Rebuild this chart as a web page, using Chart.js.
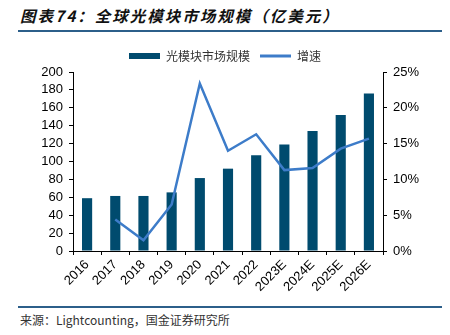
<!DOCTYPE html>
<html>
<head>
<meta charset="utf-8">
<script src="https://cdn.jsdelivr.net/npm/chart.js@4/dist/chart.umd.min.js"></script>
<style>
  body { margin: 0; width: 450px; height: 335px; background: #fff; position: relative; overflow: hidden; }
  #title { position: absolute; left: 20px; top: 4px; font: italic bold 15.5px "Noto Sans CJK SC", sans-serif; color: #111; letter-spacing: 2px; }
  .rule { position: absolute; left: 18px; width: 424px; height: 1.5px; background: #2c5f8a; }
  #source { position: absolute; left: 20px; top: 311px; font: 12px "Noto Sans CJK SC", "Liberation Sans", sans-serif; color: #333; }
  #wrap { position: absolute; left: 0; top: 40px; width: 450px; height: 262px; }
</style>
</head>
<body>
<div id="title">图表74：全球光模块市场规模（亿美元）</div>
<div class="rule" style="top:30px"></div>
<div id="wrap"><canvas id="chart1"></canvas></div>
<div class="rule" style="top:306px"></div>
<div id="source">来源：Lightcounting，国金证券研究所</div>
<script>
const years = ['2016', '2017', '2018', '2019', '2020', '2021', '2022', '2023E', '2024E', '2025E', '2026E']
const marketSize = [59, 61.5, 61.5, 65.5, 81.5, 92, 107, 119, 134, 152, 176]
const growth = [null, 4.4, 1.5, 6.5, 23.4, 14.0, 16.3, 11.3, 11.6, 14.3, 15.7]
const leftTicks = [0, 20, 40, 60, 80, 100, 120, 140, 160, 180, 200]
const rightTicks = [0, 5, 10, 15, 20, 25]

function grafico1(){
    const data = {
        labels: years,
        datasets: [{
            type: 'bar',
            label: '光模块市场规模',
            data: marketSize,
            backgroundColor: '#004b6e',
            barPercentage: 0.36,
            categoryPercentage: 1,
            yAxisID: 'y',
            order: 2
        }, {
            type: 'line',
            label: '增速',
            data: growth,
            borderColor: '#3d7cc9',
            backgroundColor: '#3d7cc9',
            borderWidth: 2.5,
            pointRadius: 0,
            tension: 0,
            yAxisID: 'y1',
            order: 1
        }]
    }
    const font = { family: '"Liberation Sans", Arial, sans-serif', size: 13 }
    new Chart(document.getElementById('chart1'), {
        data,
        options: {
            responsive: true,
            maintainAspectRatio: false,
            animation: false,
            plugins: {
                legend: {
                    position: 'top',
                    labels: {
                        usePointStyle: true,
                        pointStyleWidth: 31,
                        boxHeight: 6,
                        padding: 10,
                        color: '#333',
                        font: { family: '"Noto Sans CJK SC", sans-serif', size: 12 },
                        sort: (a, b) => a.datasetIndex - b.datasetIndex,
                        generateLabels(chart){
                            const items = Chart.defaults.plugins.legend.labels.generateLabels(chart)
                            items.forEach(item => {
                                if (item.datasetIndex === 0) {
                                    item.pointStyle = 'rect'
                                    item.lineWidth = 0
                                } else {
                                    item.pointStyle = 'line'
                                    item.lineWidth = 3
                                }
                            })
                            return items
                        }
                    }
                },
                tooltip: { enabled: false }
            },
            scales: {
                x: {
                    grid: { drawOnChartArea: false, color: '#000', tickLength: 4, offset: true },
                    border: { color: '#000' },
                    ticks: { color: '#000', font, maxRotation: 45, minRotation: 45, padding: 2 },
                    afterFit(scale){ scale.height = 51 }
                },
                y: {
                    position: 'left',
                    min: 0, max: 200,
                    afterBuildTicks(scale){ scale.ticks = leftTicks.map(v => ({ value: v })) },
                    grid: { drawOnChartArea: false, color: '#000', tickLength: 4 },
                    border: { color: '#000' },
                    ticks: { color: '#000', font, padding: 6, autoSkip: false },
                    afterFit(scale){ scale.width = 73 }
                },
                y1: {
                    position: 'right',
                    min: 0, max: 25,
                    afterBuildTicks(scale){ scale.ticks = rightTicks.map(v => ({ value: v })) },
                    grid: { drawOnChartArea: false, color: '#000', tickLength: 4 },
                    border: { color: '#000' },
                    ticks: { color: '#000', font, padding: 6, autoSkip: false, callback: v => v + '%' },
                    afterFit(scale){ scale.width = 67 }
                }
            }
        }
    })
}

grafico1()
</script>
</body>
</html>
